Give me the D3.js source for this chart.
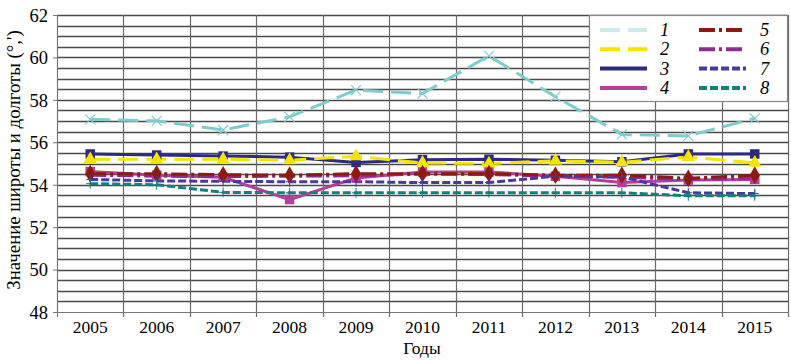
<!DOCTYPE html>
<html>
<head>
<meta charset="utf-8">
<script src="https://cdn.jsdelivr.net/npm/d3@7"></script>
<style>
  body { margin: 0; background: #fff; }
  svg text { font-family: "Liberation Serif", "DejaVu Serif", serif; fill: #000; }
</style>
</head>
<body>
<svg id="chart" width="791" height="362"></svg>
<script>
// data
const years = ["2005","2006","2007","2008","2009","2010","2011","2012","2013","2014","2015"];
const s1 = [57.08, 57.01, 56.58, 57.2, 58.46, 58.3, 60.07, 58.15, 56.37, 56.3, 57.13];
const s2 = [55.2, 55.2, 55.2, 55.15, 55.34, 55.03, 55.0, 55.13, 55.06, 55.3, 55.03];
const s3 = [55.45, 55.4, 55.35, 55.3, 55.05, 55.18, 55.2, 55.15, 55.08, 55.45, 55.45];
const s4 = [54.62, 54.45, 54.35, 53.3, 54.32, 54.6, 54.6, 54.4, 54.1, 54.22, 54.25];
const s5 = [54.52, 54.52, 54.47, 54.45, 54.52, 54.52, 54.52, 54.45, 54.45, 54.3, 54.45];
const s6 = [54.45, 54.4, 54.38, 54.4, 54.42, 54.5, 54.48, 54.4, 54.35, 54.25, 54.3];
const s7 = [54.25, 54.18, 54.16, 54.14, 54.14, 54.1, 54.1, 54.4, 54.37, 53.62, 53.58];
const s8 = [54.05, 54.0, 53.64, 53.62, 53.62, 53.62, 53.62, 53.62, 53.62, 53.48, 53.48];
const yTicks = [48, 50, 52, 54, 56, 58, 60, 62];

const series = [
  { name: "1", vals: s1, color: "#7fcccc", dash: "20,8", marker: "x" },
  { name: "3", vals: s3, color: "#2e2a80", dash: null, marker: "square" },
  { name: "2", vals: s2, color: "#f5e400", dash: "20,8", marker: "triangle" },
  { name: "4", vals: s4, color: "#b0409a", dash: null, marker: "square" },
  { name: "6", vals: s6, color: "#8b2c8f", dash: "16,4,3,4", marker: null },
  { name: "5", vals: s5, color: "#8b1a10", dash: "16,4,3,4", marker: "diamond" },
  { name: "7", vals: s7, color: "#4a3a9c", dash: "8,3", marker: "plus" },
  { name: "8", vals: s8, color: "#138079", dash: "8,3", marker: "plus" }
];
const legendColors = { "1": "#cde9ea" };

const svg = d3.select("#chart");
const plotL = 57, plotR = 788, plotT = 15, plotB = 312;

const x = d3.scaleBand().domain(years).range([plotL, plotR]).padding(0);
const cx = d => x(d) + x.bandwidth() / 2;
const y = d3.scaleLinear().domain([48, 62]).range([plotB, plotT]);

// horizontal grid every 0.5
const hGrid = d3.range(48.5, 62.01, 0.5);
svg.append("g").selectAll("line").data(hGrid).enter().append("line")
  .attr("x1", plotL).attr("x2", plotR)
  .attr("y1", d => Math.round(y(d)) + 0.5).attr("y2", d => Math.round(y(d)) + 0.5)
  .attr("stroke", "#4a4a4a").attr("stroke-width", 1.4);

// vertical grid at category boundaries
const bounds = years.slice(1).map(d => x(d)).concat([plotR]);
svg.append("g").selectAll("line").data(bounds).enter().append("line")
  .attr("x1", d => Math.round(d) + 0.5).attr("x2", d => Math.round(d) + 0.5)
  .attr("y1", plotT).attr("y2", plotB + 5)
  .attr("stroke", "#6a6a6a").attr("stroke-width", 1.2);

// axes
svg.append("line").attr("x1", plotL + 0.5).attr("x2", plotL + 0.5)
  .attr("y1", plotT).attr("y2", plotB).attr("stroke", "#777").attr("stroke-width", 1.2);
svg.append("line").attr("x1", plotL).attr("x2", plotR)
  .attr("y1", plotB + 0.5).attr("y2", plotB + 0.5).attr("stroke", "#777").attr("stroke-width", 1.2);
svg.append("line").attr("x1", plotL + 0.5).attr("x2", plotL + 0.5)
  .attr("y1", plotB).attr("y2", plotB + 5).attr("stroke", "#777");

const yAxis = d3.axisLeft(y).tickValues(yTicks).tickSize(4).tickPadding(5);
const gy = svg.append("g").attr("transform", `translate(${plotL},0)`).call(yAxis);
gy.select(".domain").remove();
gy.selectAll(".tick line").attr("stroke", "#777");
gy.selectAll("text").style("font-size", "18.5px").attr("dy", "0.34em");

const xAxis = d3.axisBottom(x).tickSize(0).tickPadding(9);
const gx = svg.append("g").attr("transform", `translate(0,${plotB})`).call(xAxis);
gx.select(".domain").remove();
gx.selectAll("text").style("font-size", "17.5px");

svg.append("text").attr("x", 422).attr("y", 354).attr("text-anchor", "middle")
  .style("font-size", "17.5px").text("Годы");
svg.append("text").attr("transform", "translate(20,160) rotate(-90)")
  .attr("text-anchor", "middle").style("font-size", "18.8px")
  .text("Значение широты и долготы (°,')");

// lines
const line = d3.line().x((v, i) => cx(years[i])).y(v => y(v));
series.forEach(s => {
  svg.append("path").attr("d", line(s.vals)).attr("fill", "none")
    .attr("stroke", s.color).attr("stroke-width", 3)
    .attr("stroke-dasharray", s.dash);
});

// markers
const sym = {
  square: d3.symbol().type(d3.symbolSquare).size(90),
  triangle: d3.symbol().type(d3.symbolTriangle).size(80),
  diamond: d3.symbol().type(d3.symbolDiamond).size(90)
};
series.forEach(s => {
  if (!s.marker) return;
  const g = svg.append("g");
  s.vals.forEach((v, i) => {
    const px = cx(years[i]), py = y(v);
    if (s.marker === "x") {
      g.append("path").attr("d", `M${px-5},${py-5}L${px+5},${py+5}M${px-5},${py+5}L${px+5},${py-5}`)
        .attr("stroke", s.color).attr("stroke-width", 1.2);
    } else if (s.marker === "plus") {
      g.append("path").attr("d", `M${px-4},${py}L${px+4},${py}M${px},${py-5}L${px},${py+5}`)
        .attr("stroke", s.color).attr("stroke-width", 1);
    } else {
      g.append("path").attr("d", sym[s.marker]())
        .attr("transform", `translate(${px},${py})`).attr("fill", s.color);
    }
  });
});

// legend
const lg = svg.append("g");
lg.append("rect").attr("x", 589.5).attr("y", 15.5).attr("width", 198).attr("height", 86)
  .attr("fill", "#fff").attr("stroke", "#888").attr("stroke-width", 1.2);
const order = ["1","2","3","4","5","6","7","8"];
order.forEach((n, i) => {
  const s = series.find(d => d.name === n);
  const col = Math.floor(i / 4), row = i % 4;
  const lx = col ? 699 : 600, ly = 30 + row * 19.3;
  lg.append("line").attr("x1", lx).attr("x2", lx + 47).attr("y1", ly).attr("y2", ly)
    .attr("stroke", legendColors[n] || s.color).attr("stroke-width", 4)
    .attr("stroke-dasharray", s.dash);
  lg.append("text").attr("x", col ? 760 : 660).attr("y", ly + 6)
    .style("font-size", "18.5px").style("font-style", "italic").text(n);
});
</script>
</body>
</html>
